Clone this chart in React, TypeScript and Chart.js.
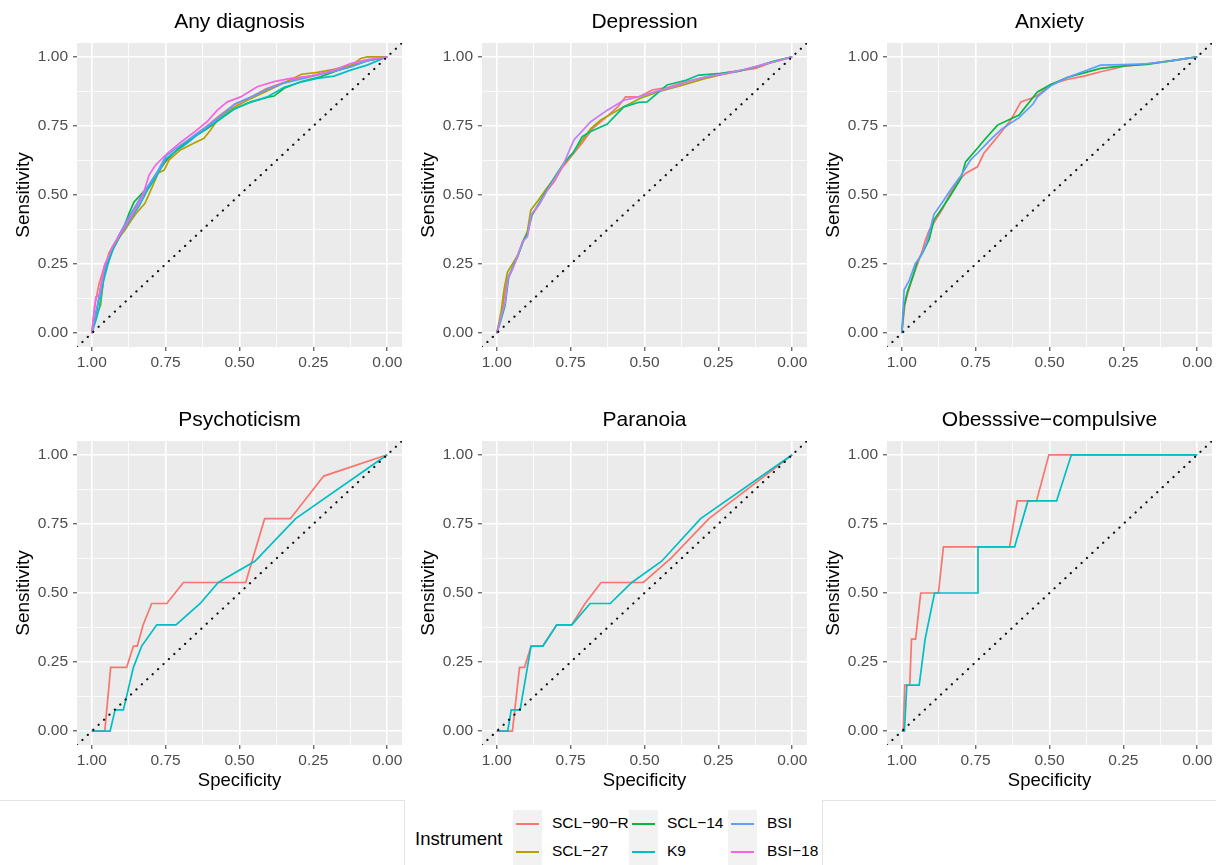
import React, { useEffect, useRef } from "react";
import { Chart, registerables } from "chart.js";

Chart.register(...registerables);

type Pt = [number, number];

const FONT = "'Liberation Sans', Arial, Helvetica, sans-serif";

// ---------- axis ticks ----------
const axisTicks = [0, 0.125, 0.25, 0.375, 0.5, 0.625, 0.75, 0.875, 1];
const majorTicks = [0, 0.25, 0.5, 0.75, 1];
const majorTickLabels = ["0.00", "0.25", "0.50", "0.75", "1.00"];
const diagonal: Pt[] = [[1.05, -0.05], [-0.05, 1.05]];

// ---------- legend ----------
const instruments = ["SCL−90−R", "SCL−27", "SCL−14", "K9", "BSI", "BSI−18"];
const legendColors = ["#F8766D", "#B79F00", "#00BA38", "#00BFC4", "#619CFF", "#F564E3"];

// ---------- panel titles ----------
const panelTitles = ["Any diagnosis", "Depression", "Anxiety", "Psychoticism", "Paranoia", "Obesssive−compulsive"];

// ---------- Any diagnosis (specificity, sensitivity) ----------
const anyDx_SCL90R: Pt[] = [[1,0],[0.99,0.1],[0.975,0.18],[0.955,0.25],[0.93,0.31],[0.9,0.37],[0.872,0.42],[0.845,0.465],[0.812,0.525],[0.78,0.575],[0.75,0.62],[0.72,0.655],[0.69,0.68],[0.655,0.715],[0.61,0.75],[0.565,0.79],[0.52,0.825],[0.465,0.852],[0.41,0.884],[0.35,0.908],[0.29,0.925],[0.235,0.935],[0.18,0.952],[0.125,0.968],[0.07,0.985],[0,1]];
const anyDx_SCL27: Pt[] = [[1,0],[0.985,0.07],[0.97,0.1],[0.96,0.2],[0.942,0.29],[0.92,0.33],[0.89,0.37],[0.865,0.41],[0.85,0.433],[0.82,0.47],[0.795,0.53],[0.775,0.58],[0.755,0.59],[0.738,0.627],[0.7,0.663],[0.655,0.687],[0.62,0.705],[0.598,0.735],[0.575,0.77],[0.53,0.81],[0.47,0.845],[0.41,0.875],[0.35,0.905],[0.29,0.937],[0.237,0.944],[0.18,0.955],[0.12,0.97],[0.09,0.994],[0.068,1],[0,1]];
const anyDx_SCL14: Pt[] = [[1,0],[0.981,0.096],[0.965,0.19],[0.953,0.241],[0.93,0.3],[0.9,0.36],[0.875,0.43],[0.857,0.475],[0.84,0.494],[0.81,0.53],[0.78,0.58],[0.745,0.63],[0.7,0.675],[0.655,0.71],[0.61,0.74],[0.565,0.775],[0.519,0.81],[0.462,0.837],[0.4,0.855],[0.383,0.858],[0.349,0.886],[0.293,0.91],[0.226,0.928],[0.17,0.95],[0.12,0.965],[0.07,0.985],[0,1]];
const anyDx_K9: Pt[] = [[1,0],[0.985,0.05],[0.975,0.09],[0.96,0.19],[0.945,0.25],[0.925,0.313],[0.9,0.36],[0.87,0.41],[0.84,0.46],[0.81,0.52],[0.78,0.57],[0.75,0.63],[0.72,0.655],[0.68,0.685],[0.64,0.72],[0.6,0.75],[0.56,0.78],[0.52,0.81],[0.474,0.831],[0.406,0.855],[0.349,0.89],[0.293,0.908],[0.237,0.922],[0.18,0.93],[0.124,0.952],[0.068,0.97],[0,1]];
const anyDx_BSI: Pt[] = [[1,0],[0.985,0.08],[0.97,0.16],[0.955,0.24],[0.935,0.3],[0.905,0.36],[0.88,0.41],[0.855,0.455],[0.83,0.5],[0.805,0.54],[0.78,0.58],[0.75,0.64],[0.72,0.665],[0.68,0.695],[0.64,0.725],[0.6,0.755],[0.56,0.79],[0.515,0.83],[0.46,0.855],[0.4,0.885],[0.35,0.905],[0.29,0.92],[0.23,0.935],[0.18,0.948],[0.12,0.965],[0.07,0.985],[0,1]];
const anyDx_BSI18: Pt[] = [[1,0],[0.986,0.131],[0.975,0.138],[0.958,0.241],[0.93,0.313],[0.891,0.379],[0.857,0.44],[0.829,0.494],[0.806,0.572],[0.784,0.608],[0.744,0.651],[0.7,0.69],[0.65,0.73],[0.61,0.765],[0.575,0.807],[0.541,0.837],[0.496,0.855],[0.44,0.892],[0.383,0.91],[0.327,0.922],[0.26,0.93],[0.18,0.952],[0.124,0.976],[0.068,0.99],[0,1]];

// ---------- Depression ----------
const dep_A: Pt[] = [[1,0],[0.985,0.06],[0.975,0.13],[0.964,0.2],[0.947,0.235],[0.93,0.275],[0.913,0.33],[0.896,0.36],[0.885,0.42],[0.857,0.465],[0.834,0.51],[0.806,0.548],[0.778,0.6],[0.744,0.645],[0.71,0.69],[0.676,0.74],[0.631,0.78],[0.59,0.82],[0.564,0.855],[0.52,0.855],[0.474,0.88],[0.42,0.89],[0.36,0.91],[0.3,0.925],[0.24,0.94],[0.18,0.95],[0.124,0.958],[0.07,0.98],[0,1]];
const dep_B: Pt[] = [[1,0],[0.985,0.08],[0.975,0.16],[0.964,0.22],[0.95,0.245],[0.93,0.28],[0.915,0.32],[0.896,0.37],[0.885,0.445],[0.86,0.48],[0.834,0.52],[0.806,0.56],[0.778,0.605],[0.744,0.65],[0.71,0.7],[0.682,0.74],[0.649,0.771],[0.57,0.819],[0.514,0.85],[0.45,0.875],[0.38,0.895],[0.3,0.92],[0.24,0.935],[0.18,0.948],[0.12,0.965],[0.07,0.98],[0,1]];
const dep_C: Pt[] = [[1,0],[0.985,0.05],[0.972,0.1],[0.96,0.2],[0.945,0.24],[0.925,0.29],[0.908,0.34],[0.896,0.36],[0.88,0.43],[0.857,0.47],[0.83,0.52],[0.8,0.572],[0.77,0.62],[0.74,0.655],[0.711,0.711],[0.682,0.73],[0.626,0.757],[0.57,0.819],[0.52,0.835],[0.491,0.837],[0.424,0.898],[0.36,0.915],[0.316,0.934],[0.24,0.94],[0.18,0.948],[0.12,0.965],[0.07,0.982],[0,1]];
const dep_D: Pt[] = [[1,0],[0.985,0.06],[0.972,0.11],[0.962,0.2],[0.947,0.23],[0.93,0.28],[0.913,0.33],[0.896,0.35],[0.883,0.43],[0.857,0.465],[0.83,0.515],[0.8,0.565],[0.775,0.61],[0.739,0.699],[0.682,0.765],[0.626,0.807],[0.57,0.843],[0.52,0.855],[0.46,0.875],[0.4,0.892],[0.34,0.915],[0.28,0.93],[0.22,0.94],[0.16,0.955],[0.1,0.972],[0.05,0.985],[0,1]];

// ---------- Anxiety ----------
const anx_A: Pt[] = [[1,0],[0.99,0.1],[0.981,0.14],[0.964,0.2],[0.947,0.25],[0.93,0.3],[0.92,0.337],[0.907,0.373],[0.885,0.41],[0.862,0.45],[0.834,0.51],[0.81,0.55],[0.784,0.578],[0.744,0.602],[0.722,0.651],[0.676,0.711],[0.631,0.771],[0.597,0.837],[0.564,0.849],[0.541,0.86],[0.496,0.9],[0.44,0.918],[0.383,0.93],[0.327,0.946],[0.25,0.965],[0.17,0.975],[0.09,0.985],[0,1]];
const anx_B: Pt[] = [[1,0],[0.992,0.1],[0.981,0.15],[0.964,0.2],[0.947,0.26],[0.93,0.29],[0.907,0.34],[0.891,0.41],[0.862,0.455],[0.834,0.5],[0.8,0.56],[0.784,0.62],[0.744,0.669],[0.72,0.7],[0.676,0.753],[0.603,0.789],[0.541,0.873],[0.496,0.9],[0.44,0.925],[0.383,0.942],[0.327,0.958],[0.25,0.967],[0.17,0.973],[0.09,0.985],[0,1]];
const anx_C: Pt[] = [[1,0],[0.992,0.157],[0.975,0.19],[0.955,0.25],[0.935,0.28],[0.915,0.33],[0.891,0.43],[0.862,0.475],[0.834,0.52],[0.8,0.57],[0.767,0.627],[0.744,0.651],[0.7,0.7],[0.66,0.74],[0.603,0.78],[0.555,0.83],[0.541,0.855],[0.496,0.895],[0.44,0.925],[0.383,0.948],[0.327,0.97],[0.25,0.972],[0.17,0.975],[0.09,0.985],[0,1]];

// ---------- Psychoticism ----------
const psy_SCL90R: Pt[] = [[1,0],[0.956,0],[0.936,0.231],[0.882,0.231],[0.859,0.308],[0.846,0.308],[0.826,0.385],[0.797,0.462],[0.746,0.462],[0.69,0.538],[0.479,0.538],[0.415,0.769],[0.328,0.769],[0.215,0.923],[0,1]];
const psy_K9: Pt[] = [[1,0],[0.938,0],[0.921,0.077],[0.893,0.077],[0.859,0.231],[0.831,0.308],[0.78,0.385],[0.715,0.385],[0.633,0.462],[0.572,0.538],[0.448,0.615],[0.31,0.769],[0,1]];

// ---------- Paranoia ----------
const par_SCL90R: Pt[] = [[1,0],[0.947,0],[0.923,0.231],[0.906,0.231],[0.884,0.308],[0.844,0.308],[0.797,0.385],[0.746,0.385],[0.701,0.462],[0.647,0.538],[0.504,0.538],[0.41,0.626],[0.282,0.769],[0,1]];
const par_K9: Pt[] = [[1,0],[0.963,0],[0.951,0.077],[0.921,0.077],[0.884,0.308],[0.844,0.308],[0.797,0.385],[0.746,0.385],[0.684,0.462],[0.616,0.462],[0.543,0.538],[0.442,0.615],[0.31,0.769],[0,1]];

// ---------- Obsessive-compulsive ----------
const oc_SCL90R: Pt[] = [[1,0],[0.995,0],[0.99,0.167],[0.973,0.167],[0.967,0.333],[0.953,0.333],[0.936,0.5],[0.876,0.5],[0.859,0.667],[0.635,0.667],[0.609,0.833],[0.544,0.833],[0.502,1],[0,1]];
const oc_K9: Pt[] = [[1,0],[0.991,0],[0.983,0.167],[0.941,0.167],[0.921,0.333],[0.889,0.5],[0.742,0.5],[0.742,0.667],[0.618,0.667],[0.573,0.833],[0.476,0.833],[0.426,1],[0,1]];

// ---------- panel colours ----------
const colorsAny = ["#F8766D", "#B79F00", "#00BA38", "#00BFC4", "#619CFF", "#F564E3"];
const colorsDep = ["#F8766D", "#A3A500", "#00BF7D", "#C77CFF"];
const colorsAnx = ["#F8766D", "#00BA38", "#619CFF"];
const colorsTwo = ["#F8766D", "#00BFC4"];

interface PanelDef {
  title: string;
  series: Pt[][];
  colors: string[];
  row: number;
  col: number;
}

const panels: PanelDef[] = [
  { title: panelTitles[0], series: [anyDx_SCL90R, anyDx_SCL27, anyDx_SCL14, anyDx_K9, anyDx_BSI, anyDx_BSI18], colors: colorsAny, row: 0, col: 0 },
  { title: panelTitles[1], series: [dep_A, dep_B, dep_C, dep_D], colors: colorsDep, row: 0, col: 1 },
  { title: panelTitles[2], series: [anx_A, anx_B, anx_C], colors: colorsAnx, row: 0, col: 2 },
  { title: panelTitles[3], series: [psy_SCL90R, psy_K9], colors: colorsTwo, row: 1, col: 0 },
  { title: panelTitles[4], series: [par_SCL90R, par_K9], colors: colorsTwo, row: 1, col: 1 },
  { title: panelTitles[5], series: [oc_SCL90R, oc_K9], colors: colorsTwo, row: 1, col: 2 },
];

const isMajor = (v: number) => majorTicks.some((m) => Math.abs(m - v) < 1e-9);
const labelFor = (v: number) => {
  const i = majorTicks.findIndex((m) => Math.abs(m - v) < 1e-9);
  return i >= 0 ? majorTickLabels[i] : "";
};

const PANEL_W = 405;

function Panel({ def }: { def: PanelDef }) {
  const ref = useRef<HTMLCanvasElement>(null);
  const bottomRow = def.row === 1;
  const canvasTop = bottomRow ? 395 : 0;
  const canvasH = bottomRow ? 400 : 395;

  useEffect(() => {
    const canvas = ref.current;
    if (!canvas) return;
    const chartTop = bottomRow ? 46 : 43;
    const xAxisH = bottomRow ? 50 : 48;
    const titleY = bottomRow ? 25 : 22.4;
    const title = def.title;

    const decor = {
      id: "panelDecor",
      beforeDraw(chart: any) {
        const { ctx, chartArea: a } = chart;
        ctx.save();
        ctx.fillStyle = "#EBEBEB";
        ctx.fillRect(a.left, a.top, a.right - a.left, a.bottom - a.top);
        ctx.restore();
      },
      afterDraw(chart: any) {
        const { ctx, chartArea: a } = chart;
        ctx.save();
        ctx.font = `21px ${FONT}`;
        ctx.fillStyle = "#000000";
        ctx.textAlign = "center";
        ctx.textBaseline = "middle";
        ctx.fillText(title, (a.left + a.right) / 2, titleY);
        ctx.restore();
      },
    };

    const datasets: any[] = def.series.map((s, i) => ({
      data: s.map(([x, y]) => ({ x, y })),
      showLine: true,
      borderColor: def.colors[i],
      backgroundColor: def.colors[i],
      borderWidth: 1.7,
      pointRadius: 0,
      pointHoverRadius: 0,
      tension: 0,
      fill: false,
      order: -i,
    }));
    datasets.push({
      data: diagonal.map(([x, y]) => ({ x, y })),
      showLine: true,
      borderColor: "#111111",
      borderWidth: 2.2,
      borderDash: [0.1, 7.3],
      borderCapStyle: "round",
      pointRadius: 0,
      pointHoverRadius: 0,
      fill: false,
      order: -100,
    });

    const gridOpts = {
      color: "#FFFFFF",
      lineWidth: (c: any) => (c.tick && isMajor(c.tick.value) ? 1.6 : 0.8),
      drawTicks: true,
      tickLength: 4,
      tickWidth: 1,
      tickColor: (c: any) => (c.tick && isMajor(c.tick.value) ? "#333333" : "rgba(0,0,0,0)"),
    };

    const chart = new Chart(canvas, {
      type: "scatter",
      data: { datasets },
      plugins: [decor],
      options: {
        animation: false,
        responsive: false,
        events: [],
        layout: { padding: { left: 0, right: 3, top: chartTop, bottom: 0 } },
        plugins: {
          legend: { display: false },
          tooltip: { enabled: false },
          title: { display: false },
        },
        scales: {
          x: {
            type: "linear",
            min: -0.05,
            max: 1.05,
            reverse: true,
            afterBuildTicks: (s: any) => {
              s.ticks = axisTicks.map((v) => ({ value: v }));
            },
            afterFit: (s: any) => {
              s.height = xAxisH;
            },
            grid: gridOpts as any,
            border: { display: false },
            ticks: {
              autoSkip: false,
              maxRotation: 0,
              minRotation: 0,
              padding: 2,
              color: "#4D4D4D",
              font: { family: FONT, size: 15.5 },
              callback: (v: any) => labelFor(Number(v)),
            },
            title: {
              display: bottomRow,
              text: "Specificity",
              color: "#000000",
              font: { family: FONT, size: 18.5 },
              padding: { top: 0, bottom: 3 },
            },
          },
          y: {
            type: "linear",
            min: -0.05,
            max: 1.05,
            afterBuildTicks: (s: any) => {
              s.ticks = axisTicks.map((v) => ({ value: v }));
            },
            afterFit: (s: any) => {
              s.width = 77;
            },
            grid: gridOpts as any,
            border: { display: false },
            ticks: {
              autoSkip: false,
              padding: 5,
              color: "#4D4D4D",
              font: { family: FONT, size: 15.5 },
              callback: (v: any) => labelFor(Number(v)),
            },
            title: {
              display: true,
              text: "Sensitivity",
              color: "#000000",
              font: { family: FONT, size: 19 },
              padding: { top: 12, bottom: 0 },
            },
          },
        },
      } as any,
    });
    return () => chart.destroy();
  }, [def, bottomRow]);

  return (
    <canvas
      ref={ref}
      width={PANEL_W}
      height={canvasH}
      style={{ position: "absolute", left: def.col * PANEL_W, top: canvasTop, width: PANEL_W, height: canvasH }}
    />
  );
}

const legendKeyLeft = [513, 629, 728];
const legendLabelLeft = [552, 667, 767];
const legendRowTop = [810, 838];
const legendRowCenter = [823.5, 852];

function Legend() {
  const items = instruments.map((name, i) => {
    const col = Math.floor(i / 2);
    const row = i % 2;
    return (
      <React.Fragment key={name}>
        <div
          style={{
            position: "absolute",
            left: legendKeyLeft[col],
            top: legendRowTop[row],
            width: 29,
            height: 27.5,
            background: "#F2F2F2",
          }}
        />
        <div
          style={{
            position: "absolute",
            left: legendKeyLeft[col] + 3,
            top: legendRowCenter[row] - 1,
            width: 23,
            height: 2,
            background: legendColors[i],
          }}
        />
        <div
          style={{
            position: "absolute",
            left: legendLabelLeft[col],
            top: legendRowCenter[row] - 10,
            height: 20,
            lineHeight: "20px",
            font: `15.5px ${FONT}`,
            color: "#000",
            whiteSpace: "nowrap",
          }}
        >
          {name}
        </div>
      </React.Fragment>
    );
  });
  return (
    <>
      <div style={{ position: "absolute", left: 0, top: 800, width: 404, height: 1, background: "#E3E3E3" }} />
      <div style={{ position: "absolute", left: 404, top: 800, width: 1, height: 65, background: "#E3E3E3" }} />
      <div style={{ position: "absolute", left: 822, top: 800, width: 394, height: 1, background: "#E3E3E3" }} />
      <div style={{ position: "absolute", left: 822, top: 800, width: 1, height: 65, background: "#E3E3E3" }} />
      <div
        style={{
          position: "absolute",
          left: 415,
          top: 840 - 12,
          height: 24,
          lineHeight: "24px",
          font: `18.5px ${FONT}`,
          color: "#000",
          whiteSpace: "nowrap",
        }}
      >
        Instrument
      </div>
      {items}
    </>
  );
}

export default function App() {
  return (
    <div
      style={{
        position: "absolute",
        left: 0,
        top: 0,
        width: 1216,
        height: 865,
        background: "#FFFFFF",
        overflow: "hidden",
      }}
    >
      {panels.map((p) => (
        <Panel key={p.title} def={p} />
      ))}
      <Legend />
    </div>
  );
}
